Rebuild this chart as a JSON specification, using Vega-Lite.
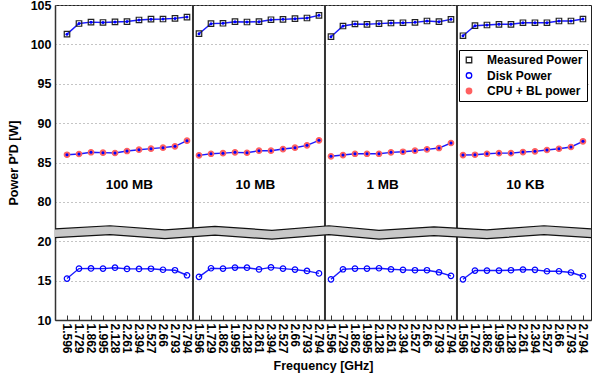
{
  "$schema": "https://vega.github.io/schema/vega-lite/v6.json",
  "width": 536,
  "height": 315,
  "autosize": {"type": "none"},
  "padding": {"left": 55, "top": 5, "right": 1, "bottom": 60},
  "background": "white",
  "config": {
    "font": "Liberation Sans",
    "view": {"stroke": "#222", "strokeWidth": 1},
    "axis": {
      "labelFont": "Liberation Sans", "labelFontWeight": "bold", "labelColor": "#000",
      "titleFont": "Liberation Sans", "titleFontWeight": "bold", "titleColor": "#000",
      "domainColor": "#333", "domainWidth": 1.5, "tickColor": "#333"
    }
  },
  "datasets": {
    "pw": [
      {"g": "100 MB", "i": 1, "Measured Power": 101.3, "CPU + BL power": 85.99, "Disk Power": 15.26},
      {"g": "100 MB", "i": 2, "Measured Power": 102.65, "CPU + BL power": 86.08, "Disk Power": 16.53},
      {"g": "100 MB", "i": 3, "Measured Power": 102.82, "CPU + BL power": 86.30, "Disk Power": 16.55},
      {"g": "100 MB", "i": 4, "Measured Power": 102.78, "CPU + BL power": 86.25, "Disk Power": 16.53},
      {"g": "100 MB", "i": 5, "Measured Power": 102.85, "CPU + BL power": 86.21, "Disk Power": 16.64},
      {"g": "100 MB", "i": 6, "Measured Power": 102.9, "CPU + BL power": 86.46, "Disk Power": 16.49},
      {"g": "100 MB", "i": 7, "Measured Power": 103.1, "CPU + BL power": 86.63, "Disk Power": 16.49},
      {"g": "100 MB", "i": 8, "Measured Power": 103.2, "CPU + BL power": 86.76, "Disk Power": 16.51},
      {"g": "100 MB", "i": 9, "Measured Power": 103.22, "CPU + BL power": 86.89, "Disk Power": 16.38},
      {"g": "100 MB", "i": 10, "Measured Power": 103.3, "CPU + BL power": 87.06, "Disk Power": 16.32},
      {"g": "100 MB", "i": 11, "Measured Power": 103.47, "CPU + BL power": 87.77, "Disk Power": 15.68},
      {"g": "10 MB", "i": 12, "Measured Power": 101.36, "CPU + BL power": 85.91, "Disk Power": 15.48},
      {"g": "10 MB", "i": 13, "Measured Power": 102.63, "CPU + BL power": 86.11, "Disk Power": 16.57},
      {"g": "10 MB", "i": 14, "Measured Power": 102.68, "CPU + BL power": 86.19, "Disk Power": 16.53},
      {"g": "10 MB", "i": 15, "Measured Power": 102.88, "CPU + BL power": 86.29, "Disk Power": 16.66},
      {"g": "10 MB", "i": 16, "Measured Power": 102.84, "CPU + BL power": 86.24, "Disk Power": 16.64},
      {"g": "10 MB", "i": 17, "Measured Power": 102.88, "CPU + BL power": 86.50, "Disk Power": 16.43},
      {"g": "10 MB", "i": 18, "Measured Power": 103.13, "CPU + BL power": 86.50, "Disk Power": 16.68},
      {"g": "10 MB", "i": 19, "Measured Power": 103.18, "CPU + BL power": 86.71, "Disk Power": 16.53},
      {"g": "10 MB", "i": 20, "Measured Power": 103.26, "CPU + BL power": 86.88, "Disk Power": 16.40},
      {"g": "10 MB", "i": 21, "Measured Power": 103.35, "CPU + BL power": 87.18, "Disk Power": 16.23},
      {"g": "10 MB", "i": 22, "Measured Power": 103.69, "CPU + BL power": 87.82, "Disk Power": 15.92},
      {"g": "1 MB", "i": 23, "Measured Power": 100.98, "CPU + BL power": 85.79, "Disk Power": 15.17},
      {"g": "1 MB", "i": 24, "Measured Power": 102.33, "CPU + BL power": 85.95, "Disk Power": 16.44},
      {"g": "1 MB", "i": 25, "Measured Power": 102.59, "CPU + BL power": 86.11, "Disk Power": 16.53},
      {"g": "1 MB", "i": 26, "Measured Power": 102.55, "CPU + BL power": 86.11, "Disk Power": 16.53},
      {"g": "1 MB", "i": 27, "Measured Power": 102.63, "CPU + BL power": 86.11, "Disk Power": 16.57},
      {"g": "1 MB", "i": 28, "Measured Power": 102.71, "CPU + BL power": 86.29, "Disk Power": 16.44},
      {"g": "1 MB", "i": 29, "Measured Power": 102.75, "CPU + BL power": 86.37, "Disk Power": 16.37},
      {"g": "1 MB", "i": 30, "Measured Power": 102.80, "CPU + BL power": 86.50, "Disk Power": 16.32},
      {"g": "1 MB", "i": 31, "Measured Power": 102.97, "CPU + BL power": 86.67, "Disk Power": 16.32},
      {"g": "1 MB", "i": 32, "Measured Power": 102.88, "CPU + BL power": 86.84, "Disk Power": 16.06},
      {"g": "1 MB", "i": 33, "Measured Power": 103.18, "CPU + BL power": 87.48, "Disk Power": 15.61},
      {"g": "10 KB", "i": 34, "Measured Power": 101.10, "CPU + BL power": 85.95, "Disk Power": 15.17},
      {"g": "10 KB", "i": 35, "Measured Power": 102.37, "CPU + BL power": 85.99, "Disk Power": 16.28},
      {"g": "10 KB", "i": 36, "Measured Power": 102.46, "CPU + BL power": 86.11, "Disk Power": 16.28},
      {"g": "10 KB", "i": 37, "Measured Power": 102.55, "CPU + BL power": 86.19, "Disk Power": 16.28},
      {"g": "10 KB", "i": 38, "Measured Power": 102.55, "CPU + BL power": 86.19, "Disk Power": 16.32},
      {"g": "10 KB", "i": 39, "Measured Power": 102.75, "CPU + BL power": 86.33, "Disk Power": 16.41},
      {"g": "10 KB", "i": 40, "Measured Power": 102.75, "CPU + BL power": 86.42, "Disk Power": 16.37},
      {"g": "10 KB", "i": 41, "Measured Power": 102.75, "CPU + BL power": 86.59, "Disk Power": 16.19},
      {"g": "10 KB", "i": 42, "Measured Power": 102.97, "CPU + BL power": 86.75, "Disk Power": 16.19},
      {"g": "10 KB", "i": 43, "Measured Power": 102.97, "CPU + BL power": 86.97, "Disk Power": 16.03},
      {"g": "10 KB", "i": 44, "Measured Power": 103.22, "CPU + BL power": 87.69, "Disk Power": 15.56}
    ],
    "seps": [{"b": 11.5}, {"b": 22.5}, {"b": 33.5}],
    "band": [
      {"bx": 0, "top": 38.9, "bot": 25.4},
      {"bx": 4.58, "top": 43.6, "bot": 30.1},
      {"bx": 9.17, "top": 37.4, "bot": 23.9},
      {"bx": 13.33, "top": 42.8, "bot": 29.3},
      {"bx": 18.08, "top": 36.6, "bot": 23.1},
      {"bx": 22.83, "top": 43.6, "bot": 30.1},
      {"bx": 27, "top": 36.6, "bot": 23.1},
      {"bx": 31.58, "top": 42.0, "bot": 28.5},
      {"bx": 36, "top": 37.4, "bot": 23.9},
      {"bx": 40.75, "top": 43.6, "bot": 30.1},
      {"bx": 44.67, "top": 38.9, "bot": 25.4}
    ],
    "labels": [
      {"lx": 6.2, "ly": 82.2, "t": "100 MB"},
      {"lx": 16.7, "ly": 82.2, "t": "10 MB"},
      {"lx": 27.3, "ly": 82.2, "t": "1 MB"},
      {"lx": 39.2, "ly": 82.2, "t": "10 KB"}
    ]
  },
  "layer": [
    {
      "data": {"name": "pw"},
      "transform": [{"fold": ["Measured Power", "Disk Power", "CPU + BL power"], "as": ["series", "p"]}],
      "mark": {"type": "line", "color": "#1a1aff", "strokeWidth": 1.4},
      "encoding": {
        "x": {
          "field": "i", "type": "quantitative",
          "scale": {"domain": [0, 44.67], "nice": false, "zero": false},
          "axis": {
            "values": [1,2,3,4,5,6,7,8,9,10,11,12,13,14,15,16,17,18,19,20,21,22,23,24,25,26,27,28,29,30,31,32,33,34,35,36,37,38,39,40,41,42,43,44],
            "tickCount": 200,
            "labelExpr": "['1.596','1.729','1.862','1.995','2.128','2.261','2.394','2.527','2.66','2.793','2.794'][(datum.value-1)%11]",
            "labelAngle": 90, "labelFontSize": 12, "labelOverlap": false, "labelFlush": false, "labelBound": false,
            "labelPadding": 8, "tickSize": -5, "grid": false,
            "title": "Frequency [GHz]", "titleFontSize": 12.5, "titlePadding": 6
          }
        },
        "y": {
          "field": "p", "type": "quantitative",
          "scale": {"domain": [10, 20, 80, 105], "range": [315, 236.25, 196.9, 0], "nice": false, "zero": false},
          "axis": {
            "values": [10, 15, 20, 80, 85, 90, 95, 100, 105],
            "tickCount": 100, "labelOverlap": false,
            "grid": true, "gridDash": [1, 3], "gridColor": "#8a8a8a", "gridWidth": 1,
            "ticks": false, "labelFontSize": 12.5, "labelPadding": 4,
            "title": "Power P′D [W]", "titleFontSize": 12.5, "titlePadding": 10
          }
        },
        "detail": [{"field": "g"}, {"field": "series"}]
      }
    },
    {
      "data": {"name": "seps"},
      "mark": {"type": "rule", "color": "#333", "strokeWidth": 2},
      "encoding": {"x": {"field": "b", "type": "quantitative"}}
    },
    {
      "data": {"name": "pw"},
      "transform": [{"fold": ["Measured Power", "Disk Power", "CPU + BL power"], "as": ["series", "p"]}],
      "mark": {"type": "point", "filled": false, "size": 30, "strokeWidth": 1.2, "opacity": 1},
      "encoding": {
        "x": {"field": "i", "type": "quantitative"},
        "y": {"field": "p", "type": "quantitative"},
        "shape": {
          "field": "series", "type": "nominal",
          "scale": {"domain": ["Measured Power", "Disk Power", "CPU + BL power"], "range": ["square", "circle", "circle"]},
          "legend": {"title": null, "orient": "none", "legendX": 404, "legendY": 45, "strokeColor": "#000", "fillColor": "#fff", "padding": 4, "labelFontSize": 12, "labelFont": "Liberation Sans", "labelFontWeight": "bold", "labelColor": "#000", "symbolSize": 30, "symbolStrokeWidth": 1.3, "rowPadding": 3.5, "labelOffset": 12}
        },
        "stroke": {
          "field": "series", "type": "nominal",
          "scale": {"domain": ["Measured Power", "Disk Power", "CPU + BL power"], "range": ["#222222", "#0000ff", "#ff6060"]},
          "legend": {"title": null, "orient": "none", "legendX": 404, "legendY": 45, "strokeColor": "#000", "fillColor": "#fff", "padding": 4, "labelFontSize": 12, "labelFont": "Liberation Sans", "labelFontWeight": "bold", "labelColor": "#000", "symbolSize": 30, "symbolStrokeWidth": 1.3, "rowPadding": 3.5, "labelOffset": 12}
        },
        "fill": {
          "field": "series", "type": "nominal",
          "scale": {"domain": ["Measured Power", "Disk Power", "CPU + BL power"], "range": ["transparent", "transparent", "#ff6060"]},
          "legend": {"title": null, "orient": "none", "legendX": 404, "legendY": 45, "strokeColor": "#000", "fillColor": "#fff", "padding": 4, "labelFontSize": 12, "labelFont": "Liberation Sans", "labelFontWeight": "bold", "labelColor": "#000", "symbolSize": 30, "symbolStrokeWidth": 1.3, "rowPadding": 3.5, "labelOffset": 12}
        }
      }
    },
    {
      "data": {"name": "pw"},
      "transform": [
        {"fold": ["Measured Power", "CPU + BL power"], "as": ["series", "p"]}
      ],
      "mark": {"type": "point", "filled": true, "size": 9, "color": "#0000ff", "opacity": 1},
      "encoding": {
        "x": {"field": "i", "type": "quantitative"},
        "y": {"field": "p", "type": "quantitative"}
      }
    },
    {
      "data": {"name": "band"},
      "mark": {"type": "area", "color": "#c8c8c8", "opacity": 1},
      "encoding": {
        "x": {"field": "bx", "type": "quantitative"},
        "y": {"field": "top", "type": "quantitative"},
        "y2": {"field": "bot"}
      }
    },
    {
      "data": {"name": "band"},
      "mark": {"type": "line", "color": "#111", "strokeWidth": 1.2},
      "encoding": {
        "x": {"field": "bx", "type": "quantitative"},
        "y": {"field": "top", "type": "quantitative"}
      }
    },
    {
      "data": {"name": "band"},
      "mark": {"type": "line", "color": "#111", "strokeWidth": 1.2},
      "encoding": {
        "x": {"field": "bx", "type": "quantitative"},
        "y": {"field": "bot", "type": "quantitative"}
      }
    },
    {
      "data": {"name": "labels"},
      "mark": {"type": "text", "font": "Liberation Sans", "fontWeight": "bold", "fontSize": 13.5, "color": "#000"},
      "encoding": {
        "x": {"field": "lx", "type": "quantitative"},
        "y": {"field": "ly", "type": "quantitative"},
        "text": {"field": "t"}
      }
    }
  ]
}
